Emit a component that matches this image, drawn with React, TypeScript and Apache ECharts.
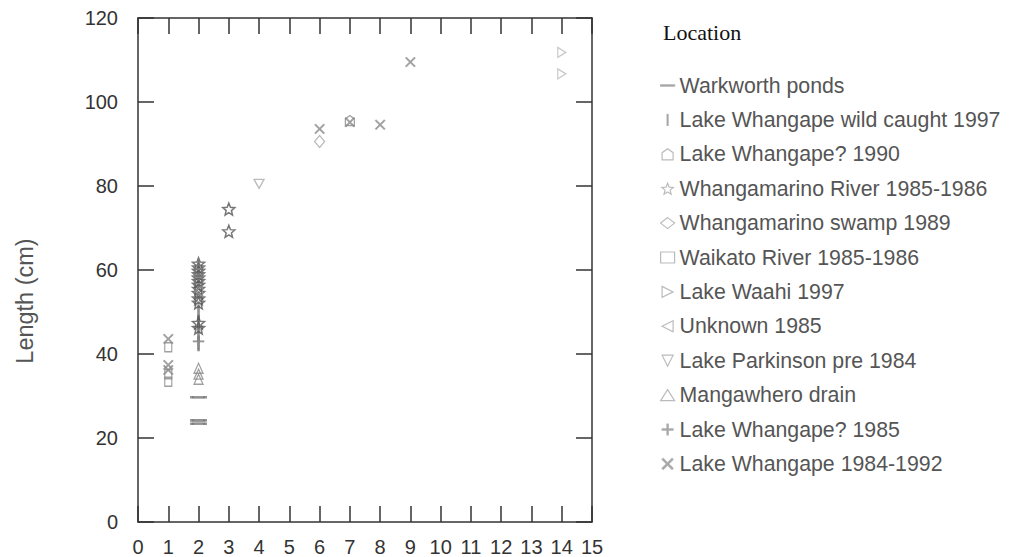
import React, { useEffect, useRef } from "react";
import * as echarts from "echarts";

const xTicks = [0, 15, 1];
const yTicks = [0, 120, 20];
const seriesNames = [
  "Warkworth ponds",
  "Lake Whangape wild caught 1997",
  "Lake Whangape? 1990",
  "Whangamarino River 1985-1986",
  "Whangamarino swamp 1989",
  "Waikato River 1985-1986",
  "Lake Waahi 1997",
  "Unknown 1985",
  "Lake Parkinson pre 1984",
  "Mangawhero drain",
  "Lake Whangape? 1985",
  "Lake Whangape 1984-1992",
];

const warkworth = [[2, 29.7], [2, 24.2], [2, 23.4]];
const wildCaught1997 = [[2, 42.5], [2, 45], [2, 47.5], [2, 50]];
const whangape1990 = [[7, 95.6]];
const whangamarinoRiver = [
  [2, 61.5], [2, 60.6], [2, 59.8], [2, 59], [2, 58.2], [2, 57.4], [2, 56.5],
  [2, 55.5], [2, 54.5], [2, 53.2], [2, 52.2], [2, 47.4], [2, 46.2],
  [3, 74.5], [3, 69.2],
];
const whangamarinoSwamp = [[6, 90.6]];
const waikatoRiver = [[1, 41.6], [1, 35.2], [1, 33.4], [2, 59.2], [2, 57.8]];
const waahi1997 = [[14, 111.8], [14, 106.7]];
const unknown1985 = [[2, 55]];
const parkinson = [[4, 80.5]];
const mangawhero = [[2, 36.6], [2, 35.2], [2, 34]];
const whangape1985 = [[2, 43]];
const whangape8492 = [[1, 43.6], [1, 37.4], [1, 36.2], [6, 93.6], [7, 95.2], [8, 94.6], [9, 109.5]];

const STAR =
  "path://M5,0 L6.293,3.22 L9.755,3.455 L7.092,5.68 L7.939,9.045 L5,7.2 L2.061,9.045 L2.908,5.68 L0.245,3.455 L3.707,3.22 Z";
const CROSS =
  "path://M0,1 L1,0 L5,4 L9,0 L10,1 L6,5 L10,9 L9,10 L5,6 L1,10 L0,9 L4,5 Z";
const PLUS =
  "path://M4.4,0 H5.6 V4.4 H10 V5.6 H5.6 V10 H4.4 V5.6 H0 V4.4 H4.4 Z";
const DASH = "path://M0,0 H10 V1 H0 Z";
const VBAR = "path://M0,0 H1 V10 H0 Z";
const PENT = "path://M5,0 L10,3.5 L10,10 L0,10 L0,3.5 Z";
const RTRI = "path://M0,0 L10,5 L0,10 Z";
const LTRI = "path://M10,0 L0,5 L10,10 Z";
const DTRI = "path://M0,0 L10,0 L5,10 Z";

const FONT = "'Liberation Sans', Arial, sans-serif";

export default function App() {
  const ref = useRef<HTMLDivElement>(null);
  useEffect(() => {
    if (!ref.current) return;
    const chart = echarts.init(ref.current, null, { renderer: "svg" });
    const hollow = (c: string, w = 1.3) => ({
      color: "rgba(255,255,255,0)",
      borderColor: c,
      borderWidth: w,
    });
    const filled = (c: string) => ({ color: c, borderColor: c, borderWidth: 0.6 });
    const defs: any[] = [
      { data: warkworth, symbol: DASH, size: [13, 2], style: filled("#777") },
      { data: wildCaught1997, symbol: VBAR, size: [2, 12], style: filled("#777") },
      { data: whangape1990, symbol: PENT, size: [9, 10], style: hollow("#888") },
      { data: whangamarinoRiver, symbol: STAR, size: [12, 12], style: hollow("#555", 1.5) },
      { data: whangamarinoSwamp, symbol: "diamond", size: [10, 12], style: hollow("#aaa") },
      { data: waikatoRiver, symbol: "rect", size: [7, 9], style: hollow("#888") },
      { data: waahi1997, symbol: RTRI, size: [8, 10], style: hollow("#bbb") },
      { data: unknown1985, symbol: LTRI, size: [8, 10], style: hollow("#999") },
      { data: parkinson, symbol: DTRI, size: [10, 9], style: hollow("#aaa") },
      { data: mangawhero, symbol: "triangle", size: [9, 10], style: hollow("#888") },
      { data: whangape1985, symbol: PLUS, size: [11, 11], style: filled("#888") },
      { data: whangape8492, symbol: CROSS, size: [10, 10], style: filled("#8a8a8a") },
    ];
    const series = defs.map((d, i) => ({
      name: seriesNames[i],
      type: "scatter",
      data: d.data,
      symbol: d.symbol,
      symbolSize: d.size,
      itemStyle: d.style,
      xAxisIndex: 0,
      yAxisIndex: 0,
    }));
    const axisLine = { show: true, onZero: false, lineStyle: { color: "#333", width: 1.5 } };
    const tick = { show: true, inside: true, length: 16, lineStyle: { color: "#333", width: 1.5 } };
    chart.setOption({
      animation: false,
      backgroundColor: "#fff",
      title: {
        text: "Location",
        left: 663,
        top: 21,
        padding: 0,
        textStyle: {
          fontFamily: "'Liberation Serif', 'Times New Roman', serif",
          fontWeight: "normal",
          fontSize: 22,
          color: "#111",
        },
      },
      legend: {
        orient: "vertical",
        left: 655,
        top: 70,
        itemWidth: 14,
        itemHeight: 11,
        itemGap: 13.4,
        textStyle: { fontFamily: FONT, fontSize: 21.3, color: "#555" },
        itemStyle: { borderColor: "#aaa", borderWidth: 1.2 },
        data: seriesNames,
      },
      graphic: [
        {
          type: "text",
          x: 25,
          y: 301,
          rotation: Math.PI / 2,
          style: {
            text: "Length (cm)",
            fontFamily: FONT,
            fontSize: 23.5,
            fill: "#555",
            align: "center",
            verticalAlign: "middle",
          },
        },
      ],
      grid: { left: 138, right: 418, top: 18, bottom: 35, containLabel: false },
      xAxis: [
        {
          type: "value",
          min: xTicks[0],
          max: xTicks[1],
          interval: xTicks[2],
          position: "bottom",
          axisLine,
          axisTick: tick,
          splitLine: { show: false },
          axisLabel: { fontFamily: FONT, fontSize: 20, color: "#333", margin: 15 },
        },
        {
          type: "value",
          min: xTicks[0],
          max: xTicks[1],
          interval: xTicks[2],
          position: "top",
          axisLine,
          axisTick: tick,
          splitLine: { show: false },
          axisLabel: { show: false },
        },
      ],
      yAxis: [
        {
          type: "value",
          min: yTicks[0],
          max: yTicks[1],
          interval: yTicks[2],
          position: "left",
          axisLine,
          axisTick: tick,
          splitLine: { show: false },
          axisLabel: { fontFamily: FONT, fontSize: 20, color: "#333", margin: 20 },
        },
        {
          type: "value",
          min: yTicks[0],
          max: yTicks[1],
          interval: yTicks[2],
          position: "right",
          axisLine,
          axisTick: tick,
          splitLine: { show: false },
          axisLabel: { show: false },
        },
      ],
      series,
    });
    return () => chart.dispose();
  }, []);
  return (
    <div
      ref={ref}
      style={{ position: "absolute", left: 0, top: 0, width: 1010, height: 557 }}
    />
  );
}
